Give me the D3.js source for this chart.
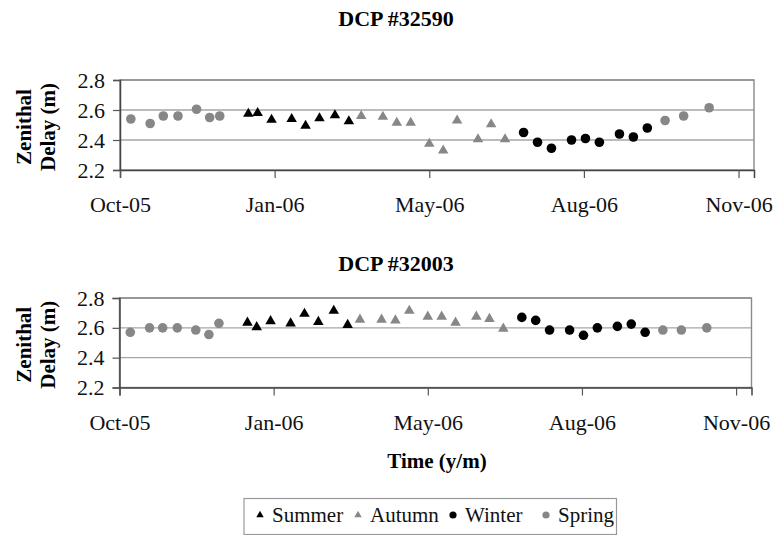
<!DOCTYPE html>
<html>
<head>
<meta charset="utf-8">
<script src="https://cdn.jsdelivr.net/npm/d3@7"></script>
<style>
  body { margin: 0; background: #fff; }
  svg, svg text { font-family: "Liberation Serif", "Tinos", "Times New Roman", "DejaVu Serif", serif !important; }
</style>
</head>
<body>
<div id="chart"></div>
<script>
// days counted from mid-Oct 2005, ticks every 100 days
var tickDays = [0, 100, 200, 300, 400];
var tickLabels = ["Oct-05", "Jan-06", "May-06", "Aug-06", "Nov-06"];
var yTicks = [2.2, 2.4, 2.6, 2.8];
var seasons = ["Summer", "Autumn", "Winter", "Spring"];

var summerDays = [83, 89, 98, 111, 120, 129, 139, 148];
var autumnDays = [156, 170, 179, 188, 200, 209, 218, 231.5, 240, 249];
var winterDays = [261, 270, 279, 292, 301, 310, 323, 332, 341];
var springDays = [7, 19.5, 28, 37.5, 49.5, 58, 64.5, 352.5, 364.5, 381];

// DCP #32590
var summer32590 = [2.58, 2.585, 2.54, 2.545, 2.50, 2.55, 2.57, 2.53];
var autumn32590 = [2.565, 2.56, 2.52, 2.52, 2.38, 2.335, 2.535, 2.41, 2.51, 2.41];
var winter32590 = [2.45, 2.385, 2.345, 2.40, 2.41, 2.385, 2.44, 2.42, 2.48];
var spring32590 = [2.54, 2.51, 2.56, 2.56, 2.605, 2.55, 2.56, 2.53, 2.56, 2.615];

// DCP #32003
var summer32003 = [2.64, 2.61, 2.65, 2.635, 2.70, 2.645, 2.72, 2.625];
var autumn32003 = [2.66, 2.66, 2.655, 2.72, 2.68, 2.68, 2.64, 2.68, 2.665, 2.60];
var winter32003 = [2.67, 2.65, 2.585, 2.585, 2.55, 2.60, 2.61, 2.625, 2.57];
var spring32003 = [2.57, 2.60, 2.60, 2.60, 2.585, 2.555, 2.63, 2.585, 2.585, 2.60];

var gray = "#878787";
var style = {
  Summer: { shape: "tri", color: "#000" },
  Autumn: { shape: "tri", color: gray },
  Winter: { shape: "dot", color: "#000" },
  Spring: { shape: "dot", color: gray }
};
var seasonDays = { Summer: summerDays, Autumn: autumnDays, Winter: winterDays, Spring: springDays };

var panels = [
  { title: "DCP #32590", titleY: 26, left: 120, right: 754, top: 80, bottom: 170,
    values: { Summer: summer32590, Autumn: autumn32590, Winter: winter32590, Spring: spring32590 } },
  { title: "DCP #32003", titleY: 271, left: 119.5, right: 751.5, top: 298, bottom: 387.5,
    values: { Summer: summer32003, Autumn: autumn32003, Winter: winter32003, Spring: spring32003 } }
];

var svg = d3.select("#chart").append("svg")
  .attr("width", 776)
  .attr("height", 535);

panels.forEach(function(p) {
  var x = d3.scaleLinear().domain([0, 410]).range([p.left, p.right]);
  var y = d3.scaleLinear().domain([2.2, 2.8]).range([p.bottom, p.top]);

  svg.append("text")
    .attr("x", 396).attr("y", p.titleY)
    .attr("text-anchor", "middle")
    .attr("font-weight", "bold")
    .attr("font-size", 22)
    .text(p.title);

  // gridlines
  svg.append("g").selectAll("line")
    .data(yTicks.slice(1))
    .enter().append("line")
    .attr("x1", p.left).attr("x2", p.right)
    .attr("y1", d => y(d)).attr("y2", d => y(d))
    .attr("stroke", "#a6a6a6").attr("stroke-width", 1.4);

  // frame
  svg.append("rect")
    .attr("x", p.left).attr("y", p.top)
    .attr("width", p.right - p.left).attr("height", p.bottom - p.top)
    .attr("fill", "none").attr("stroke", "#8a8a8a").attr("stroke-width", 1.4);

  var yAxis = svg.append("g")
    .attr("transform", "translate(" + p.left + ",0)")
    .call(d3.axisLeft(y).tickValues(yTicks).tickFormat(d3.format(".1f")).tickSize(7).tickPadding(8));
  var xAxis = svg.append("g")
    .attr("transform", "translate(0," + p.bottom + ")")
    .call(d3.axisBottom(x).tickValues(tickDays).tickFormat((d, i) => tickLabels[i]).tickSize(8));

  [yAxis, xAxis].forEach(function(a) {
    a.attr("font-family", null);
    a.select(".domain").attr("stroke", "#444").attr("stroke-width", 1.5);
    a.selectAll(".tick line").attr("stroke", "#555").attr("stroke-width", 1.2);
    a.selectAll("text").attr("font-size", 22).attr("fill", "#111");
  });
  xAxis.selectAll("text").attr("y", 42).attr("dy", 0);

  // y axis title
  var cy = (p.top + p.bottom) / 2 + 2;
  svg.append("text")
    .attr("transform", "translate(31," + cy + ") rotate(-90)")
    .attr("text-anchor", "middle").attr("font-weight", "bold").attr("font-size", 21)
    .text("Zenithal");
  svg.append("text")
    .attr("transform", "translate(55," + cy + ") rotate(-90)")
    .attr("text-anchor", "middle").attr("font-weight", "bold").attr("font-size", 21)
    .text("Delay (m)");

  // markers
  seasons.forEach(function(s) {
    var pts = seasonDays[s].map((d, i) => [d, p.values[s][i]]);
    var g = svg.append("g").attr("fill", style[s].color);
    if (style[s].shape == "dot") {
      g.selectAll("circle").data(pts).enter().append("circle")
        .attr("cx", d => x(d[0])).attr("cy", d => y(d[1])).attr("r", 4.8);
    } else {
      g.selectAll("path").data(pts).enter().append("path")
        .attr("d", d3.symbol().type(d3.symbolTriangle).size(48))
        .attr("transform", d => "translate(" + x(d[0]) + "," + (y(d[1]) + 0.8) + ")");
    }
  });
});

svg.append("text")
  .attr("x", 437).attr("y", 468)
  .attr("text-anchor", "middle").attr("font-weight", "bold").attr("font-size", 21)
  .text("Time (y/m)");

// legend
svg.append("rect")
  .attr("x", 244).attr("y", 498.5).attr("width", 372.5).attr("height", 36)
  .attr("fill", "none").attr("stroke", "#999").attr("stroke-width", 1.2);

var legendX = [260, 358, 453, 546];
seasons.forEach(function(s, i) {
  var g = svg.append("g").attr("transform", "translate(" + legendX[i] + ",515)");
  if (style[s].shape == "dot") {
    g.append("circle").attr("r", 3.6).attr("fill", style[s].color);
  } else {
    g.append("path").attr("d", d3.symbol().type(d3.symbolTriangle).size(24)).attr("fill", style[s].color);
  }
  g.append("text").attr("x", 12).attr("y", 6.5).attr("font-size", 21).attr("fill", "#111").text(s);
});
</script>
</body>
</html>
